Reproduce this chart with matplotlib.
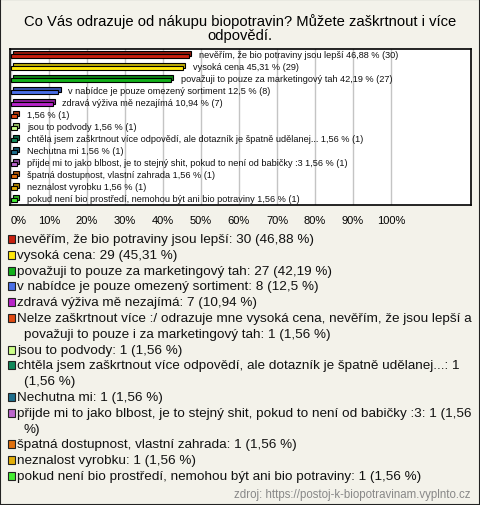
import matplotlib
matplotlib.use("Agg")
import matplotlib.pyplot as plt
from matplotlib.patches import Rectangle

# data
kategorie = [
    "nevěřím, že bio potraviny jsou lepší",
    "vysoká cena",
    "považuji to pouze za marketingový tah",
    "v nabídce je pouze omezený sortiment",
    "zdravá výživa mě nezajímá",
    "Nelze zaškrtnout více :/ odrazuje mne vysoká cena, nevěřím, že jsou lepší a považuji to pouze i za marketingový tah",
    "jsou to podvody",
    "chtěla jsem zaškrtnout více odpovědí, ale dotazník je špatně udělanej...",
    "Nechutna mi",
    "přijde mi to jako blbost, je to stejný shit, pokud to není od babičky :3",
    "špatná dostupnost, vlastní zahrada",
    "neznalost vyrobku",
    "pokud není bio prostředí, nemohou být ani bio potraviny",
]
# popisky u sloupcu (dlouha odpoved je v grafu bez textu)
popisky = kategorie[:5] + [""] + kategorie[6:]
pocty = [30, 29, 27, 8, 7, 1, 1, 1, 1, 1, 1, 1, 1]
procenta = [46.88, 45.31, 42.19, 12.5, 10.94, 1.56, 1.56, 1.56, 1.56, 1.56, 1.56, 1.56, 1.56]
barvy = ["#C8200E", "#FFE80A", "#12B01A", "#4A6FE6", "#B824C8", "#E04A12",
         "#CCFF88", "#11885A", "#1E6E8C", "#BB66CC", "#E0700E", "#E2AE08", "#44EE33"]
tiky = [0, 10, 20, 30, 40, 50, 60, 70, 80, 90, 100]
zdroj = "zdroj: https://postoj-k-biopotravinam.vyplnto.cz"
titulek = "Co Vás odrazuje od nákupu biopotravin? Můžete zaškrtnout i více\nodpovědí."

W, H = 480, 506
FONT = "Liberation Sans"
BG = "#F3F2EA"


def fmt(x):
    return ("%g" % x).replace(".", ",")


def ztmav(c, k=0.75):
    r, g, b = matplotlib.colors.to_rgb(c)
    return (r * k, g * k, b * k)


fig = plt.figure(figsize=(W / 100, H / 100), dpi=100, facecolor=BG)
fig.patches.append(Rectangle((0, 0), 1, 1, transform=fig.transFigure,
                             fill=False, edgecolor="#222222", lw=1.5))

fig.text(0.5, 1 - 28.5 / H, titulek, ha="center", va="center", fontsize=10.6,
         family=FONT, linespacing=1.08)

# graf
ax = fig.add_axes([10 / W, 1 - 206 / H, 461 / W, 156 / H])
ax.set_facecolor("white")
for s in ax.spines.values():
    s.set_color("black")
    s.set_linewidth(1.2)

y = list(range(len(procenta)))
ax.set_xlim(-0.26, 121.05)
ax.set_ylim(len(procenta) - 0.5, -0.5)
for t in tiky:
    ax.axvline(t, color="#C4C4C4", lw=1, zorder=0)

ax.barh([i - 0.1 for i in y], procenta, left=0.55, height=0.4,
        color=[ztmav(c) for c in barvy], edgecolor="black", lw=0.8, zorder=2)
ax.barh([i + 0.08 for i in y], procenta, height=0.4, color=barvy,
        edgecolor="black", lw=0.8, zorder=3)

for i in y:
    txt = (popisky[i] + " " if popisky[i] else "") + "%s %% (%d)" % (fmt(procenta[i]), pocty[i])
    ax.text(procenta[i] + 2.6, i, txt, va="center", ha="left", fontsize=6.6,
            family=FONT, color="#111111", zorder=4)

ax.set_yticks([])
ax.set_xticks(tiky)
ax.set_xticklabels(["%d%%" % t for t in tiky], fontsize=8, family=FONT)
ax.get_xticklabels()[0].set_ha("left")
ax.tick_params(axis="x", length=0, pad=7)

# legenda
renderer = fig.canvas.get_renderer()
LEG_FS = 9.7


def zalom(s, maxw):
    slova = s.split(" ")
    radky, cur = [], ""
    for w in slova:
        zk = (cur + " " + w).strip()
        t = fig.text(0, 0, zk, fontsize=LEG_FS, family=FONT)
        sirka = t.get_window_extent(renderer).width
        t.remove()
        if sirka > maxw and cur:
            radky.append(cur)
            cur = w
        else:
            cur = zk
    radky.append(cur)
    return radky


ypix = 240
krok = 15.8
for i, k in enumerate(kategorie):
    s = "%s: %d (%s %%)" % (k, pocty[i], fmt(procenta[i]))
    radky = zalom(s, 472 - 17)
    fig.patches.append(Rectangle((7.5 / W, 1 - (ypix + 4) / H), 8 / W, 8 / H,
                                 transform=fig.transFigure, facecolor=barvy[i],
                                 edgecolor="#222222", lw=0.8))
    for j, r in enumerate(radky):
        fig.text((17 if j == 0 else 24) / W, 1 - ypix / H, r, fontsize=LEG_FS,
                 family=FONT, va="center", ha="left", color="#111111")
        ypix += krok

fig.text(470 / W, 1 - 495 / H, zdroj, ha="right", va="center", fontsize=8.3,
         family=FONT, color="#888888")

fig.savefig("out.png", dpi=100, facecolor=BG)
